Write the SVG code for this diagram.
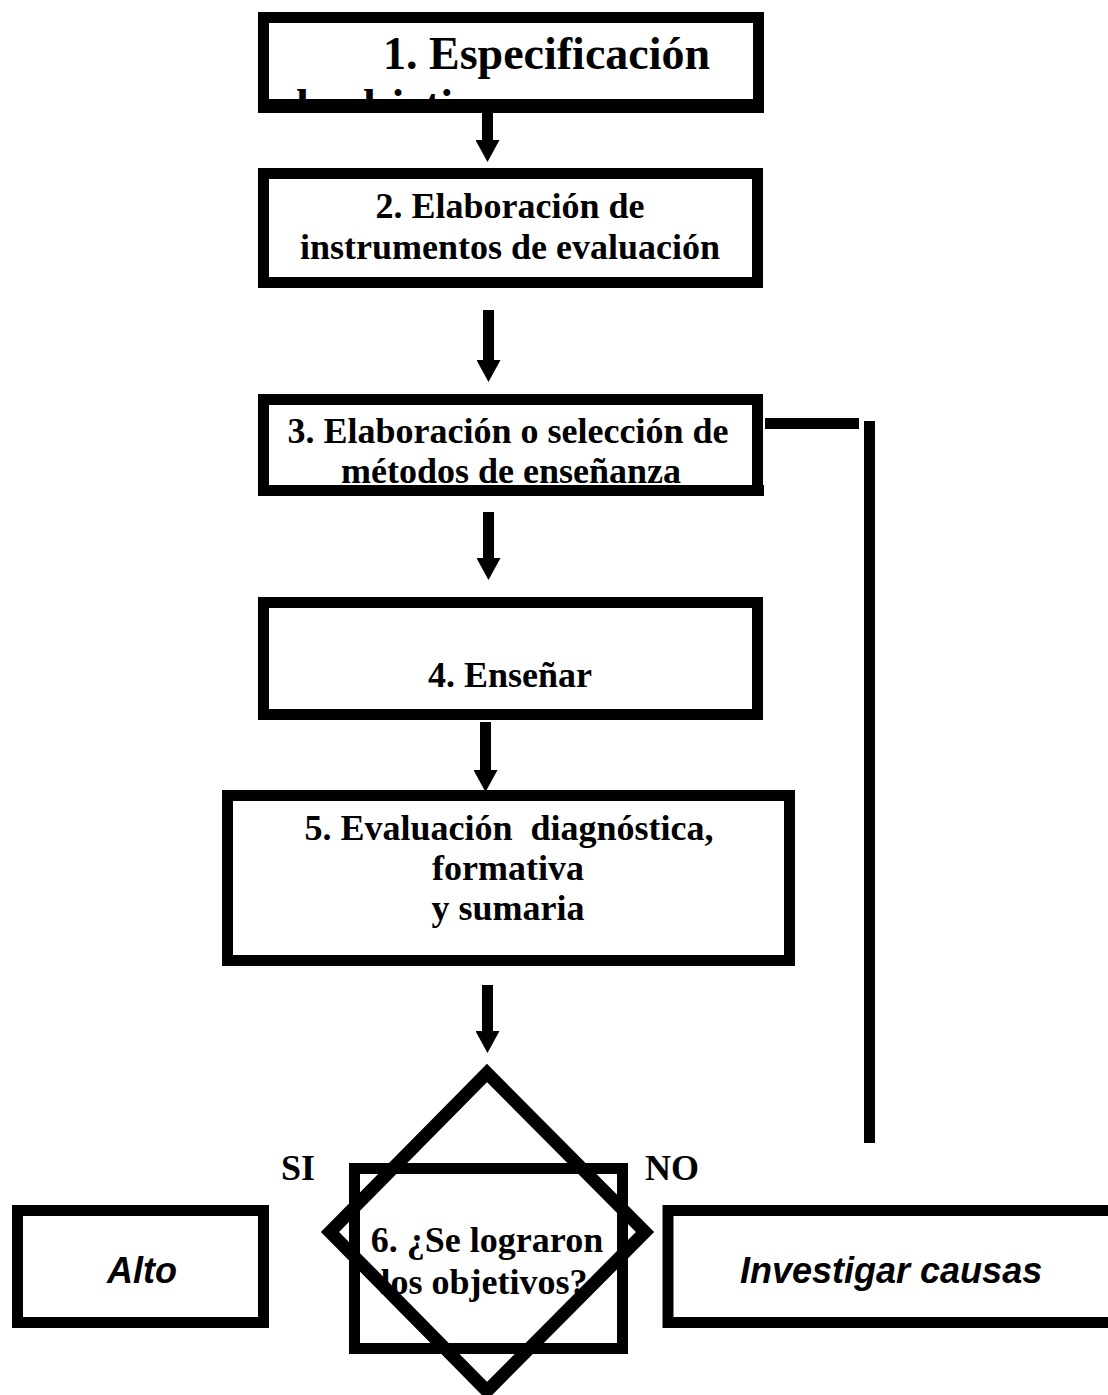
<svg xmlns="http://www.w3.org/2000/svg" width="1108" height="1395" viewBox="0 0 1108 1395">
<style>
.box{fill:#fff;stroke:#000;stroke-width:11}
.t{font-family:"Liberation Serif","Times New Roman",serif;font-weight:bold;font-size:36px;fill:#000;text-anchor:middle;white-space:pre}
.s{font-family:"Liberation Sans",Arial,sans-serif;font-weight:bold;font-style:italic;font-size:36px;fill:#000}
.c{stroke:#000;stroke-width:11;fill:none}
</style>
<defs>
<marker id="ah" markerUnits="userSpaceOnUse" markerWidth="22" markerHeight="24" viewBox="0 0 22 24" refX="1" refY="12" orient="auto">
<path d="M0,0 L22,12 L0,24 Z" fill="#000"/>
</marker>
<clipPath id="clip1"><rect x="258" y="12" width="506" height="98"/></clipPath>
</defs>
<g id="connectors">
<line class="c" x1="487.5" y1="110" x2="487.5" y2="141" marker-end="url(#ah)"/>
<line class="c" x1="488.5" y1="310" x2="488.5" y2="361" marker-end="url(#ah)"/>
<line class="c" x1="488.5" y1="512" x2="488.5" y2="559" marker-end="url(#ah)"/>
<line class="c" x1="485.5" y1="722" x2="485.5" y2="771" marker-end="url(#ah)"/>
<line class="c" x1="487.5" y1="985" x2="487.5" y2="1032" marker-end="url(#ah)"/>
<line class="c" x1="765" y1="423.5" x2="859" y2="423.5"/>
<line class="c" x1="869.5" y1="421" x2="869.5" y2="1143"/>
</g>
<g id="node1">
<rect class="box" x="263.5" y="17.5" width="495" height="87"/>
<g clip-path="url(#clip1)">
<text class="t" style="font-size:46px;text-anchor:start" x="383" y="69">1. Especificación</text>
<text class="t" style="font-size:46px;text-anchor:start" x="283" y="121">de objetivos</text>
</g>
<rect x="258" y="103" width="506" height="10" fill="#000"/>
</g>
<g id="node2">
<rect class="box" x="263.5" y="173.5" width="494" height="109"/>
<text class="t" x="510" y="218">2. Elaboración de</text>
<text class="t" x="510" y="259">instrumentos de evaluación</text>
</g>
<g id="node3">
<rect class="box" x="263.5" y="399.5" width="494" height="91"/>
<text class="t" x="508" y="443">3. Elaboración o selección de</text>
<text class="t" x="511" y="483">métodos de enseñanza</text>
<rect x="258" y="485" width="506" height="11" fill="#000"/>
</g>
<g id="node4">
<rect class="box" x="263.5" y="602.5" width="494" height="112"/>
<text class="t" x="510" y="687">4. Enseñar</text>
</g>
<g id="node5">
<rect class="box" x="227.5" y="795.5" width="562" height="165"/>
<text class="t" x="509" y="840">5. Evaluación  diagnóstica,</text>
<text class="t" x="508" y="880">formativa</text>
<text class="t" x="508" y="920">y sumaria</text>
</g>
<g id="node6">
<rect class="box" x="354.5" y="1168.5" width="268" height="180"/>
<text class="t" x="487" y="1252">6. ¿Se lograron</text>
<text class="t" x="484" y="1294">los objetivos?</text>
<polygon points="487,1073 645,1232 487,1391 330,1232" fill="none" stroke="#000" stroke-width="13" stroke-miterlimit="10"/>
</g>
<g id="labels">
<text class="t" x="298" y="1180">SI</text>
<text class="t" x="672" y="1180">NO</text>
</g>
<g id="node-alto">
<rect class="box" x="17.5" y="1210.5" width="246" height="112"/>
<text class="s" x="142" y="1283" text-anchor="middle">Alto</text>
</g>
<g id="node-investigar">
<rect class="box" x="668" y="1210.5" width="460" height="112"/>
<text class="s" x="740" y="1283">Investigar causas</text>
</g>
</svg>
